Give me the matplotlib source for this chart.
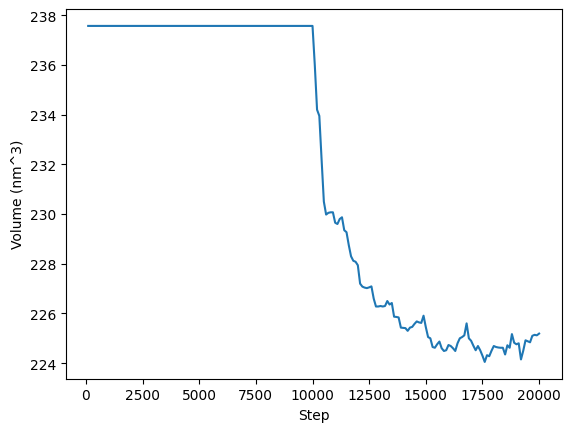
import matplotlib
matplotlib.use("Agg")
import matplotlib.pyplot as plt

# Volume stays fixed until step 10000, then the box relaxes
plateau_steps = [100]
plateau_volume = [237.57]

relax_steps = list(range(10000, 20001, 100))
relax_volume = [
    237.57, 236.00, 234.20, 233.95, 232.20, 230.50, 229.98, 230.05, 230.07, 230.07,
    229.65, 229.60, 229.80, 229.87, 229.35, 229.27, 228.75, 228.30, 228.12, 228.08,
    227.94, 227.20, 227.08, 227.04, 227.02, 227.05, 227.09, 226.60, 226.28, 226.28,
    226.30, 226.28, 226.30, 226.50, 226.36, 226.42, 225.87, 225.86, 225.84, 225.43,
    225.42, 225.41, 225.30, 225.43, 225.46, 225.58, 225.68, 225.64, 225.62, 225.91,
    225.45, 225.05, 225.00, 224.65, 224.62, 224.76, 224.87, 224.60, 224.49, 224.52,
    224.73, 224.69, 224.60, 224.49, 224.80, 225.00, 225.05, 225.12, 225.60, 225.00,
    224.90, 224.70, 224.52, 224.69, 224.52, 224.30, 224.05, 224.32, 224.28, 224.50,
    224.69, 224.65, 224.63, 224.62, 224.62, 224.35, 224.72, 224.62, 225.17, 224.82,
    224.76, 224.80, 224.15, 224.50, 224.92, 224.88, 224.84, 225.10, 225.14, 225.12,
    225.19,
]

steps = plateau_steps + relax_steps
volume = plateau_volume + relax_volume

fig, ax = plt.subplots(figsize=(6.4, 4.8), dpi=100)
ax.plot(steps, volume)
ax.set_xlabel("Step")
ax.set_ylabel("Volume (nm^3)")

fig.savefig("out.png", dpi=100, bbox_inches="tight")
